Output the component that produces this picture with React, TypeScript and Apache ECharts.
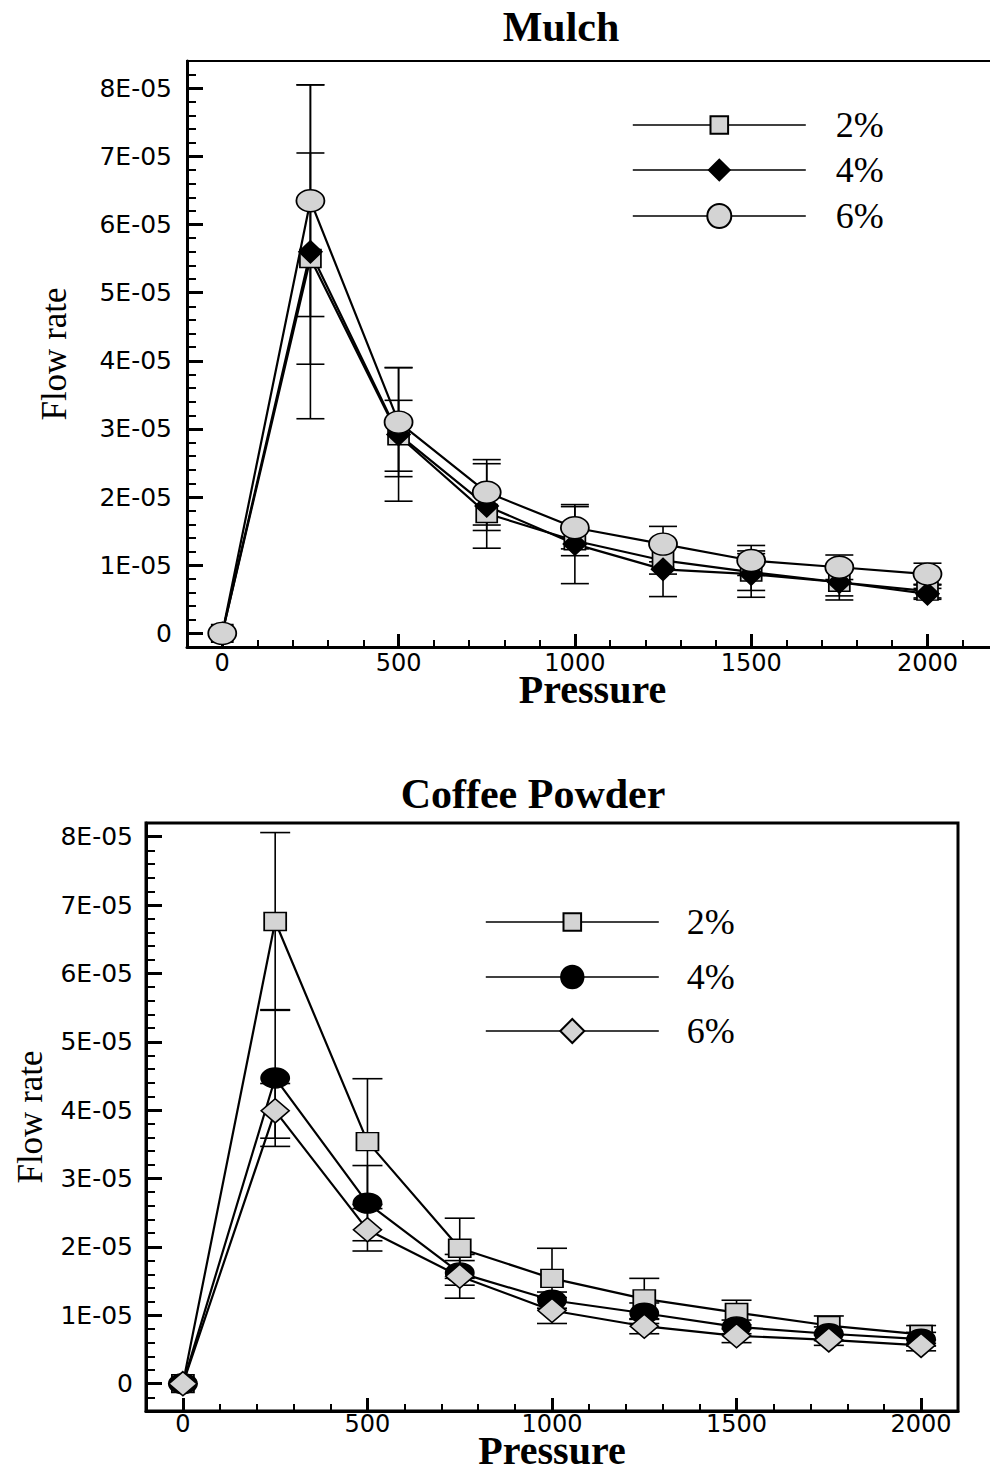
import { useEffect, useRef } from 'react';
import * as echarts from 'echarts';

// ---------- data ----------
const pressures = [0, 250, 500, 750, 1000, 1250, 1500, 1750, 2000];

const mulch2 = [0, 5.5e-5, 2.9e-5, 1.76e-5, 1.36e-5, 1.07e-5, 0.9e-5, 0.75e-5, 0.62e-5];
const mulch2Err = [0, 1.55e-5, 0.52e-5, 0.25e-5, 0.22e-5, 0.2e-5, 0.27e-5, 0.2e-5, 0.1e-5];
const mulch4 = [0, 5.6e-5, 2.92e-5, 1.87e-5, 1.31e-5, 0.94e-5, 0.87e-5, 0.75e-5, 0.58e-5];
const mulch4Err = [0, 2.45e-5, 0.98e-5, 0.62e-5, 0.58e-5, 0.4e-5, 0.34e-5, 0.26e-5, 0.08e-5];
const mulch6 = [0, 6.35e-5, 3.1e-5, 2.07e-5, 1.55e-5, 1.31e-5, 1.07e-5, 0.97e-5, 0.87e-5];
const mulch6Err = [0, 1.7e-5, 0.8e-5, 0.48e-5, 0.31e-5, 0.26e-5, 0.22e-5, 0.18e-5, 0.16e-5];

const coffee2 = [0, 6.76e-5, 3.54e-5, 1.98e-5, 1.54e-5, 1.24e-5, 1.04e-5, 0.85e-5, 0.72e-5];
const coffee2Err = [0, 1.3e-5, 0.92e-5, 0.44e-5, 0.44e-5, 0.3e-5, 0.18e-5, 0.14e-5, 0.13e-5];
const coffee4 = [0, 4.47e-5, 2.64e-5, 1.62e-5, 1.22e-5, 1.03e-5, 0.83e-5, 0.73e-5, 0.65e-5];
const coffee4Err = [0, 1.0e-5, 0.55e-5, 0.18e-5, 0.12e-5, 0.15e-5, 0.1e-5, 0.1e-5, 0.1e-5];
const coffee6 = [0, 3.99e-5, 2.25e-5, 1.57e-5, 1.07e-5, 0.84e-5, 0.7e-5, 0.64e-5, 0.56e-5];
const coffee6Err = [0, 0.4e-5, 0.31e-5, 0.32e-5, 0.19e-5, 0.11e-5, 0.1e-5, 0.08e-5, 0.08e-5];

const xMajorTicks = [0, 500, 1000, 1500, 2000];
const yMajorTicks = [0, 1e-5, 2e-5, 3e-5, 4e-5, 5e-5, 6e-5, 7e-5, 8e-5];

const titles = ['Mulch', 'Coffee Powder'];
const xName = 'Pressure';
const yName = 'Flow rate';

// ---------- styles ----------
const BLACK = '#000';
const GRAY = '#d4d4d4';
const ELLIPSE = 'path://M0,50A50,50,0,1,1,100,50A50,50,0,1,1,0,50Z';
const SERIF = 'Liberation Serif';
const SANS = 'DejaVu Sans';

function fmtY(v: number) {
  if (Math.abs(v) < 1e-12) return '0';
  return Math.round(v * 1e5) + 'E-05';
}

function fmtX(v: number) {
  return String(Math.round(v));
}

function errSeries(xi: number, yi: number, vals: number[], errs: number[], w: number) {
  return {
    type: 'custom',
    xAxisIndex: xi,
    yAxisIndex: yi,
    z: 1,
    silent: true,
    clip: false,
    data: pressures.map((p, i) => [p, vals[i] - errs[i], vals[i] + errs[i]]),
    renderItem: (_params: any, api: any) => {
      const x = api.value(0);
      const lo = api.value(1);
      const hi = api.value(2);
      if (!(hi - lo > 0)) return null;
      const t = api.coord([x, hi]);
      const b = api.coord([x, lo]);
      const st = { stroke: BLACK, lineWidth: 1.6 };
      return {
        type: 'group',
        children: [
          { type: 'line', shape: { x1: t[0], y1: t[1], x2: b[0], y2: b[1] }, style: st },
          { type: 'line', shape: { x1: t[0] - w, y1: t[1], x2: t[0] + w, y2: t[1] }, style: st },
          { type: 'line', shape: { x1: b[0] - w, y1: b[1], x2: b[0] + w, y2: b[1] }, style: st },
        ],
      };
    },
  };
}

function lineSeries(name: string, xi: number, yi: number, vals: number[], symbol: string, size: number[], fill: string) {
  return {
    type: 'line',
    name,
    xAxisIndex: xi,
    yAxisIndex: yi,
    z: 3,
    data: pressures.map((p, i) => [p, vals[i]]),
    symbol,
    symbolSize: size,
    symbolKeepAspect: false,
    showSymbol: true,
    showAllSymbol: true,
    clip: false,
    lineStyle: { color: BLACK, width: 2.2 },
    itemStyle: { color: fill, borderColor: BLACK, borderWidth: 1.6 },
    emphasis: { disabled: true },
  };
}

function legendItem(name: string, left: number, cy: number, h: number, gap: number) {
  return {
    show: true,
    data: [name],
    left,
    top: cy - 18,
    padding: 0,
    orient: 'vertical',
    itemWidth: 173,
    itemHeight: h,
    selectedMode: false,
    formatter: (n: string) => n.split(' ').pop(),
    lineStyle: { width: 1.6 },
    textStyle: { fontFamily: SERIF, fontSize: 36, color: BLACK, padding: [0, 0, 0, gap] },
  };
}

function mainX(grid: number, min: number, max: number, nameGap: number, labelMargin: number) {
  return {
    type: 'value',
    gridIndex: grid,
    position: 'bottom',
    min,
    max,
    name: xName,
    nameLocation: 'middle',
    nameGap,
    nameMoveOverlap: false,
    nameTextStyle: { fontFamily: SERIF, fontSize: 40, lineHeight: 26, fontWeight: 'bold', color: BLACK },
    axisLine: { show: true, onZero: false, lineStyle: { color: BLACK, width: 3 } },
    axisTick: { show: true, inside: true, length: 13, customValues: xMajorTicks, lineStyle: { color: BLACK, width: 3 } },
    axisLabel: { show: true, customValues: xMajorTicks, margin: labelMargin, fontFamily: SANS, fontSize: 24, lineHeight: 20, color: BLACK, formatter: fmtX },
    splitLine: { show: false },
  };
}

function minorX(grid: number, min: number, max: number) {
  return {
    type: 'value',
    gridIndex: grid,
    position: 'bottom',
    min,
    max,
    interval: 100,
    axisLine: { show: false, onZero: false },
    axisTick: { show: true, inside: true, length: 7, lineStyle: { color: BLACK, width: 2 } },
    axisLabel: { show: false },
    splitLine: { show: false },
  };
}

function mainY(grid: number, min: number, max: number, nameGap: number, margin: number) {
  return {
    type: 'value',
    gridIndex: grid,
    position: 'left',
    min,
    max,
    name: yName,
    nameLocation: 'middle',
    nameRotate: 90,
    nameGap,
    nameTextStyle: { fontFamily: SERIF, fontSize: 35, color: BLACK },
    axisLine: { show: true, onZero: false, lineStyle: { color: BLACK, width: 3 } },
    axisTick: { show: true, inside: true, length: 16, customValues: yMajorTicks, lineStyle: { color: BLACK, width: 3 } },
    axisLabel: { show: true, customValues: yMajorTicks, margin, fontFamily: SANS, fontSize: 25, color: BLACK, formatter: fmtY },
    splitLine: { show: false },
  };
}

function minorY(grid: number, min: number, max: number) {
  return {
    type: 'value',
    gridIndex: grid,
    position: 'left',
    min,
    max,
    interval: 2e-6,
    axisLine: { show: false, onZero: false },
    axisTick: { show: true, inside: true, length: 9, lineStyle: { color: BLACK, width: 2 } },
    axisLabel: { show: false },
    splitLine: { show: false },
  };
}

export default function App() {
  const ref = useRef<HTMLDivElement>(null);

  useEffect(() => {
    if (!ref.current) return;
    const chart = echarts.init(ref.current, null, { renderer: 'svg' });
    const option: any = {
      animation: false,
      backgroundColor: '#fff',
      title: [
        { text: titles[0], left: 561, top: 6, textAlign: 'center', padding: 0, textStyle: { fontFamily: SERIF, fontSize: 42, fontWeight: 'bold', color: BLACK } },
        { text: titles[1], left: 533, top: 773, textAlign: 'center', padding: 0, textStyle: { fontFamily: SERIF, fontSize: 42, fontWeight: 'bold', color: BLACK } },
      ],
      legend: [
        legendItem('Mulch 2%', 632, 125, 22, 25),
        legendItem('Mulch 4%', 632, 170, 26, 25),
        legendItem('Mulch 6%', 632, 216, 30, 25),
        legendItem('Coffee 2%', 485, 922, 22, 23),
        legendItem('Coffee 4%', 485, 977, 28, 23),
        legendItem('Coffee 6%', 485, 1031, 30, 23),
      ],
      grid: [
        { left: 187, top: 61, width: 811, height: 586, show: true, borderColor: BLACK, borderWidth: 2, backgroundColor: 'transparent', containLabel: false, outerBoundsMode: 'none' },
        { left: 146, top: 823, width: 812, height: 588, show: true, borderColor: BLACK, borderWidth: 3, backgroundColor: 'transparent', containLabel: false, outerBoundsMode: 'none' },
      ],
      xAxis: [
        mainX(0, -100, 2200, 29, 6),
        minorX(0, -100, 2200),
        mainX(1, -100, 2100, 26, 3),
        minorX(1, -100, 2100),
      ],
      yAxis: [
        mainY(0, -2e-6, 8.4e-5, 115, 15),
        minorY(0, -2e-6, 8.4e-5),
        mainY(1, -4e-6, 8.2e-5, 98, 13),
        minorY(1, -4e-6, 8.2e-5),
      ],
      series: [
        errSeries(0, 0, mulch2, mulch2Err, 14),
        errSeries(0, 0, mulch4, mulch4Err, 14),
        errSeries(0, 0, mulch6, mulch6Err, 14),
        lineSeries('Mulch 2%', 0, 0, mulch2, 'rect', [21, 18], GRAY),
        lineSeries('Mulch 4%', 0, 0, mulch4, 'diamond', [23, 22], BLACK),
        lineSeries('Mulch 6%', 0, 0, mulch6, ELLIPSE, [28, 22], GRAY),
        errSeries(2, 2, coffee2, coffee2Err, 15),
        errSeries(2, 2, coffee4, coffee4Err, 15),
        errSeries(2, 2, coffee6, coffee6Err, 15),
        lineSeries('Coffee 2%', 2, 2, coffee2, 'rect', [22, 18], GRAY),
        lineSeries('Coffee 4%', 2, 2, coffee4, ELLIPSE, [28, 20], BLACK),
        lineSeries('Coffee 6%', 2, 2, coffee6, 'diamond', [28, 24], GRAY),
      ],
    };
    chart.setOption(option);
    return () => chart.dispose();
  }, []);

  return (
    <div style={{ position: 'absolute', left: 0, top: 0, width: 990, height: 1468, overflow: 'hidden', background: '#fff' }}>
      <div ref={ref} style={{ width: 1010, height: 1468 }} />
    </div>
  );
}
